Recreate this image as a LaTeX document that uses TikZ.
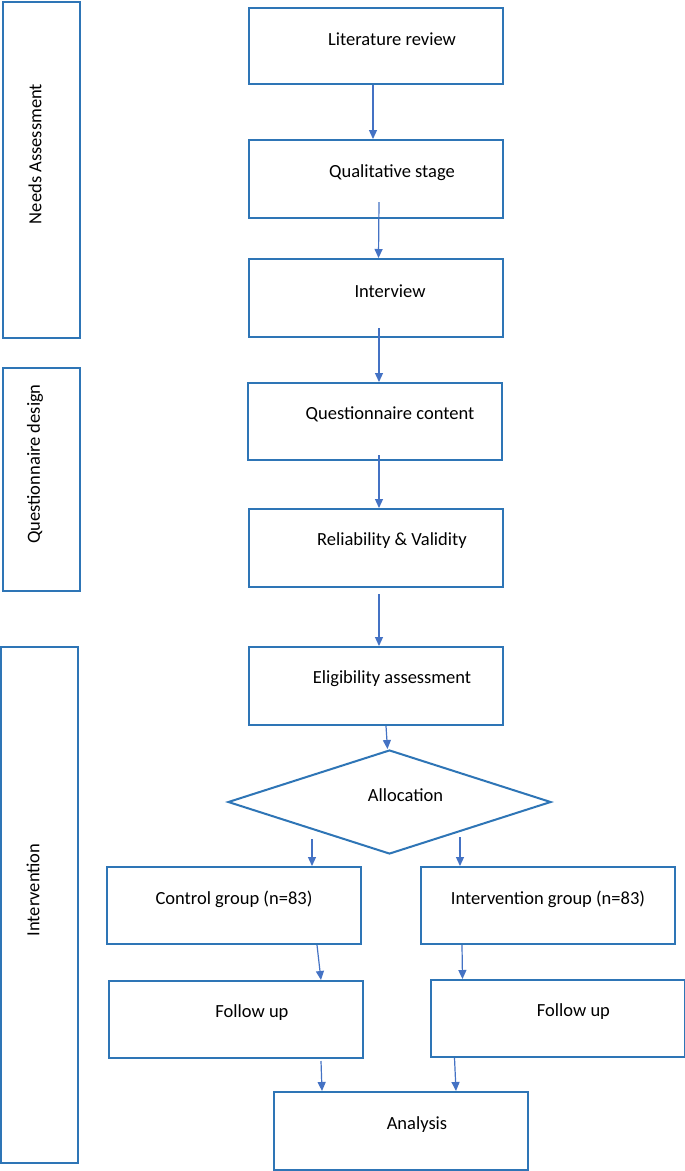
\documentclass[tikz,border=0pt]{standalone}
\usepackage{fontspec}
\setmainfont{Carlito}
\usetikzlibrary{arrows.meta,shapes.geometric}
\definecolor{boxblue}{RGB}{46,117,182}
\definecolor{arrblue}{RGB}{68,114,196}
\begin{document}
\begin{tikzpicture}[x=1pt,y=-1pt,
  box/.style={draw=boxblue, line width=2pt, rectangle, inner sep=0pt, minimum width=254pt, minimum height=77pt},
  side/.style={draw=boxblue, line width=2pt, rectangle, inner sep=0pt, minimum width=77pt},
  txt/.style={font=\fontsize{18.5}{22}\selectfont, inner sep=0pt},
  arr/.style={draw=arrblue, line width=1.2pt, -{Triangle[width=8pt,length=9pt]}}]
\useasboundingbox (0,0) rectangle (685,1171);
\fill[white] (0,0) rectangle (685,1171);
% side boxes
\node[side, minimum height=336pt, label={[txt,xshift=-6.5pt,yshift=16pt,rotate=90]center:Needs Assessment}] (na) at (41.5,170) {};
\node[side, minimum height=223pt, label={[txt,xshift=-6.5pt,yshift=15.5pt,rotate=90]center:Questionnaire design}] (qd) at (41.5,479.5) {};
\node[side, minimum height=516pt, label={[txt,xshift=-6.5pt,yshift=15pt,rotate=90]center:Intervention}] (iv) at (39.5,905) {};
% main boxes
\node[box, minimum height=76pt, label={[txt,xshift=16pt,yshift=7pt]center:Literature review}] (lit) at (376,46) {};
\node[box, minimum height=78pt, label={[txt,xshift=16pt,yshift=6pt]center:Qualitative stage}] (qual) at (376,179) {};
\node[box, minimum height=78pt, label={[txt,xshift=14.5pt,yshift=7pt]center:Interview}] (int) at (375.5,298) {};
\node[box, label={[txt,xshift=15pt,yshift=7.5pt]center:Questionnaire content}] (qc) at (375,421.5) {};
\node[box, minimum height=78pt, label={[txt,xshift=16pt,yshift=7pt]center:Reliability \& Validity}] (rel) at (376,548) {};
\node[box, minimum height=78pt, label={[txt,xshift=16pt,yshift=7pt]center:Eligibility assessment}] (elig) at (376,686) {};
\node[draw=boxblue, line width=2pt, diamond, inner sep=0pt, minimum width=323pt, minimum height=104pt,
      label={[txt,xshift=16pt,yshift=7pt]center:Allocation}] (alloc) at (389.5,802) {};
\node[box, label={[txt,yshift=6.5pt]center:Control group (n=83)}] (ctrl) at (234,905.5) {};
\node[box, label={[txt,yshift=6.5pt]center:Intervention group (n=83)}] (ig) at (548,905.5) {};
\node[box, label={[txt,xshift=16pt,yshift=6.5pt]center:Follow up}] (fl) at (236,1019.5) {};
\node[box, label={[txt,xshift=16pt,yshift=6.5pt]center:Follow up}] (fr) at (557.5,1018.5) {};
\node[box, minimum height=78pt, label={[txt,xshift=16pt,yshift=6pt]center:Analysis}] (an) at (401,1131) {};
% free ends
\coordinate (aL) at ([xshift=-77.5pt,yshift=-37pt]alloc.center);
\coordinate (aR) at ([xshift=70.5pt,yshift=-35pt]alloc.center);
% arrows
\draw[arr] ([xshift=-3pt]lit.south) -- ([xshift=-3pt]qual.north);
\draw[arr] ([xshift=3pt,yshift=17pt]qual.south) -- ([xshift=3pt]int.north);
\draw[arr] ([xshift=3.5pt,yshift=10pt]int.south) -- ([xshift=3.5pt]int.south |- qc.north);
\draw[arr] ([xshift=4pt,yshift=6pt]qc.south) -- ([xshift=4pt]qc.south |- rel.north);
\draw[arr] ([xshift=3pt,yshift=-6pt]rel.south) -- ([xshift=3pt]rel.south |- elig.north);
\draw[arr] ([xshift=10pt]elig.south) -- ([xshift=-2pt]alloc.north);
\draw[arr] (aL) -- (aL |- ctrl.north);
\draw[arr] (aR) -- (aR |- ig.north);
\draw[arr] ([xshift=83pt]ctrl.south) -- ([xshift=85pt]fl.north);
\draw[arr] ([xshift=-86pt]ig.south) -- ([xshift=-95pt]fr.north);
\draw[arr] ([xshift=85pt,yshift=-2pt]fl.south) -- ([xshift=-79pt]an.north);
\draw[arr] ([xshift=-103pt]fr.south) -- ([xshift=55pt]an.north);
\end{tikzpicture}
\end{document}
